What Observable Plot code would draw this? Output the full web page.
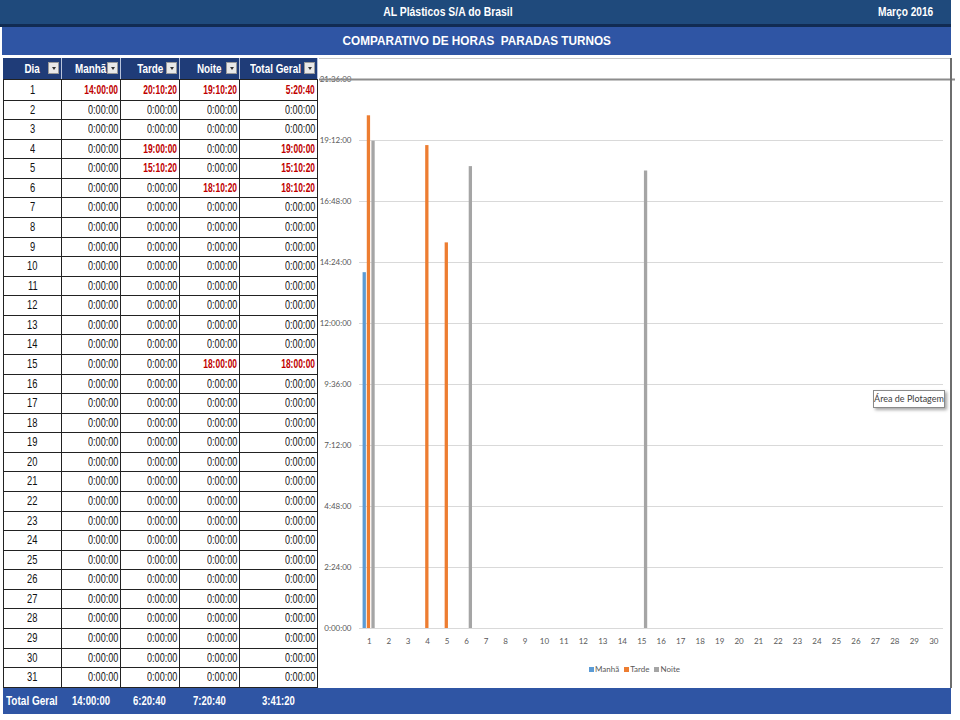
<!DOCTYPE html>
<html><head><meta charset="utf-8">
<script src="https://cdn.jsdelivr.net/npm/d3@7"></script>
<script src="https://cdn.jsdelivr.net/npm/@observablehq/plot@0.6"></script>
<style>
html,body{margin:0;padding:0;background:#fff;}
body{width:960px;height:720px;position:relative;overflow:hidden;font-family:"Liberation Sans",Arial,sans-serif;}
.abs{position:absolute;box-sizing:border-box;white-space:nowrap;}
.abs > span.t{display:inline-block;}
.bar1{left:0;top:0;width:951px;height:24px;background:#1f4a7c;}
.sep{left:0;top:24px;width:951px;height:3px;background:#112b52;}
.bar2{left:2px;top:27px;width:949px;height:28px;background:#2f55a4;}
.wt{color:#fff;font-weight:bold;font-size:13px;}
.hdr{background:#1f3c78;color:#fff;font-weight:bold;font-size:13px;line-height:21px;text-align:center;border-right:1px solid #b8c4dc;}
.dd{width:11px;height:12px;background:#e9e9e9;border:1px solid #9a9a9a;}
.dd::after{content:"";position:absolute;left:2.5px;top:4px;border-left:2.5px solid transparent;border-right:2.5px solid transparent;border-top:3px solid #333;}
.cell{border-right:1px solid #222;border-bottom:1px solid #222;font-size:13px;text-align:right;padding-right:2px;color:#111;}
.dia{text-align:center;font-size:13px;padding-right:0;border-left:1px solid #222;}
.red{color:#c00000;font-weight:bold;}
.bot{left:3px;top:688px;width:948px;height:26px;background:#2f55a4;}
.tip{left:873px;top:390px;width:72px;height:18px;background:#fff;border:1px solid #8a8a8a;box-shadow:2px 2px 3px rgba(0,0,0,.35);font-family:Lato,sans-serif;font-size:9px;color:#404040;line-height:16px;text-align:center;}
.leg{top:664px;left:589px;font-family:Lato,sans-serif;font-size:8px;color:#595959;}
.leg span.sw{display:inline-block;width:5px;height:5px;margin-right:1px;}
</style></head><body>
<script>
// ---------- DATA ----------
const titulo = "AL Plásticos S/A do Brasil";
const mes = "Março 2016";
const subtitulo = "COMPARATIVO DE HORAS  PARADAS TURNOS";
const colunas = ["Dia", "Manhã", "Tarde", "Noite", "Total Geral"];
const series = ["Manhã", "Tarde", "Noite"];
const dias = [1,2,3,4,5,6,7,8,9,10,11,12,13,14,15,16,17,18,19,20,21,22,23,24,25,26,27,28,29,30,31];
const diasGrafico = [1,2,3,4,5,6,7,8,9,10,11,12,13,14,15,16,17,18,19,20,21,22,23,24,25,26,27,28,29,30];
const manha = ["14:00:00","0:00:00","0:00:00","0:00:00","0:00:00","0:00:00","0:00:00","0:00:00","0:00:00","0:00:00","0:00:00","0:00:00","0:00:00","0:00:00","0:00:00","0:00:00","0:00:00","0:00:00","0:00:00","0:00:00","0:00:00","0:00:00","0:00:00","0:00:00","0:00:00","0:00:00","0:00:00","0:00:00","0:00:00","0:00:00","0:00:00"];
const tarde = ["20:10:20","0:00:00","0:00:00","19:00:00","15:10:20","0:00:00","0:00:00","0:00:00","0:00:00","0:00:00","0:00:00","0:00:00","0:00:00","0:00:00","0:00:00","0:00:00","0:00:00","0:00:00","0:00:00","0:00:00","0:00:00","0:00:00","0:00:00","0:00:00","0:00:00","0:00:00","0:00:00","0:00:00","0:00:00","0:00:00","0:00:00"];
const noite = ["19:10:20","0:00:00","0:00:00","0:00:00","0:00:00","18:10:20","0:00:00","0:00:00","0:00:00","0:00:00","0:00:00","0:00:00","0:00:00","0:00:00","18:00:00","0:00:00","0:00:00","0:00:00","0:00:00","0:00:00","0:00:00","0:00:00","0:00:00","0:00:00","0:00:00","0:00:00","0:00:00","0:00:00","0:00:00","0:00:00","0:00:00"];
const totalGeral = ["5:20:40","0:00:00","0:00:00","19:00:00","15:10:20","18:10:20","0:00:00","0:00:00","0:00:00","0:00:00","0:00:00","0:00:00","0:00:00","0:00:00","18:00:00","0:00:00","0:00:00","0:00:00","0:00:00","0:00:00","0:00:00","0:00:00","0:00:00","0:00:00","0:00:00","0:00:00","0:00:00","0:00:00","0:00:00","0:00:00","0:00:00"];
const totaisRodape = ["14:00:00", "6:20:40", "7:20:40", "3:41:20"];
const yTickLabels = ["0:00:00","2:24:00","4:48:00","7:12:00","9:36:00","12:00:00","14:24:00","16:48:00","19:12:00","21:36:00"];
const cores = ["#5b9bd5", "#ed7d31", "#a5a5a5"];

// ---------- helpers ----------
const toHours = s => { const [h, m, x] = s.split(":").map(Number); return h + m / 60 + x / 3600; };
const fmt = v => { const t = Math.round(v * 3600); const h = Math.floor(t / 3600), m = Math.floor(t % 3600 / 60), s = t % 60; return `${h}:${String(m).padStart(2,"0")}:${String(s).padStart(2,"0")}`; };
const body = document.body;
function el(cls, style, text, sx, origin) {
  const d = document.createElement("div");
  d.className = "abs " + cls;
  Object.assign(d.style, style || {});
  if (text != null) {
    const sp = document.createElement("span");
    sp.className = "t";
    sp.textContent = text;
    if (sx) { sp.style.transform = `scaleX(${sx})`; sp.style.transformOrigin = origin || "left center"; }
    d.appendChild(sp);
  }
  body.appendChild(d);
  return d;
}

// ---------- top bars ----------
el("bar1");
el("wt", {left:"0px", top:"0px", width:"895px", height:"24px", lineHeight:"24px", textAlign:"center"}, titulo, 0.8, "center");
el("wt", {left:"878px", top:"0px", height:"24px", lineHeight:"24px"}, mes, 0.78, "left center");
el("sep");
el("bar2");
el("wt", {left:"2px", top:"27px", width:"949px", height:"28px", lineHeight:"28px", textAlign:"center", whiteSpace:"pre", fontSize:"12.5px"}, subtitulo, 0.94, "center");

// ---------- table ----------
const edges = [3, 62, 121, 180, 240, 318];
colunas.forEach((c, j) => {
  const h = el("hdr", {left: edges[j] + "px", top: "58px", width: (edges[j+1] - edges[j]) + "px", height: "21px"}, c, 0.76, "center");
  if (j === 4) h.style.paddingRight = "6px";
  el("dd", {left: (edges[j+1] - 14) + "px", top: "62px"});
});
const rowH = 19.57, row0 = 80;
const cols = [dias.map(String), manha, tarde, noite, totalGeral];
dias.forEach((d, i) => {
  for (let j = 0; j < 5; j++) {
    const v = cols[j][i];
    const red = j > 0 && v !== "0:00:00";
    el("cell" + (j === 0 ? " dia" : "") + (red ? " red" : ""), {
      left: edges[j] + "px", top: (row0 + i * rowH) + "px",
      width: (edges[j+1] - edges[j]) + "px", height: (rowH + 1) + "px",
      lineHeight: (rowH + 1) + "px"
    }, v, j === 0 ? 0.72 : (red ? 0.65 : 0.7), j === 0 ? "center" : "right center");
  }
});
el("", {left:"3px", top:(row0 - 1) + "px", width:"315px", height:"1px", background:"#222"});

// ---------- bottom bar ----------
el("bot");
el("wt", {left:"6px", top:"688px", lineHeight:"26px"}, "Total Geral", 0.77);
[72, 133, 193, 262].forEach((x, k) => el("wt", {left: x + "px", top:"688px", lineHeight:"26px"}, totaisRodape[k], 0.73));

// ---------- chart ----------
const data = [];
diasGrafico.forEach((d, i) => {
  data.push({dia: d, serie: "Manhã", valor: toHours(manha[i])});
  data.push({dia: d, serie: "Tarde", valor: toHours(tarde[i])});
  data.push({dia: d, serie: "Noite", valor: toHours(noite[i])});
});
const yTicks = yTickLabels.map(toHours);
const W = 632, mL = 40, mR = 8;
const barW = 3.3;
const step = (W - mL - mR) / diasGrafico.length;
const inset = (step - barW) / 2;
const offsets = [-4.5, -0.3, 4.3];

const chart = Plot.plot({
  width: W, height: 630,
  marginLeft: mL, marginRight: mR, marginTop: 21, marginBottom: 60,
  style: {fontFamily: "Lato, sans-serif", fontSize: "8px", color: "#595959", background: "transparent", overflow: "visible"},
  x: {type: "band", domain: diasGrafico, padding: 0, round: false, label: null, tickSize: 0, tickPadding: 10},
  y: {domain: [0, yTicks[yTicks.length - 1]], ticks: yTicks, tickFormat: fmt, label: null, tickSize: 0, tickPadding: 8},
  marks: [
    Plot.ruleY(yTicks.slice(0, -1), {stroke: "#d9d9d9", strokeWidth: 1}),
    Plot.ruleY(yTicks.slice(-1), {stroke: "#8c8c8c", strokeWidth: 2, insetLeft: -40, insetRight: -12}),
    ...series.map((s, k) => Plot.barY(data.filter(d => d.serie === s), {
      x: "dia", y: "valor", fill: cores[k], insetLeft: inset, insetRight: inset, dx: offsets[k]
    }))
  ]
});
const wrap = el("", {left: "319px", top: "58px", width: W + "px", height: "630px"});
wrap.appendChild(chart);
el("", {left:"319px", top:"58px", width:"632px", height:"1px", background:"#c8c8c8"});
el("", {left:"950px", top:"58px", width:"2px", height:"630px", background:"#6e6e6e"});

// legend
const leg = el("leg");
series.forEach((s, k) => {
  const sp = document.createElement("span");
  sp.style.marginRight = "5px";
  sp.innerHTML = `<span class="sw" style="background:${cores[k]}"></span>${s}`;
  leg.appendChild(sp);
});
el("tip", {}, "Área de Plotagem");
</script>
</body></html>
